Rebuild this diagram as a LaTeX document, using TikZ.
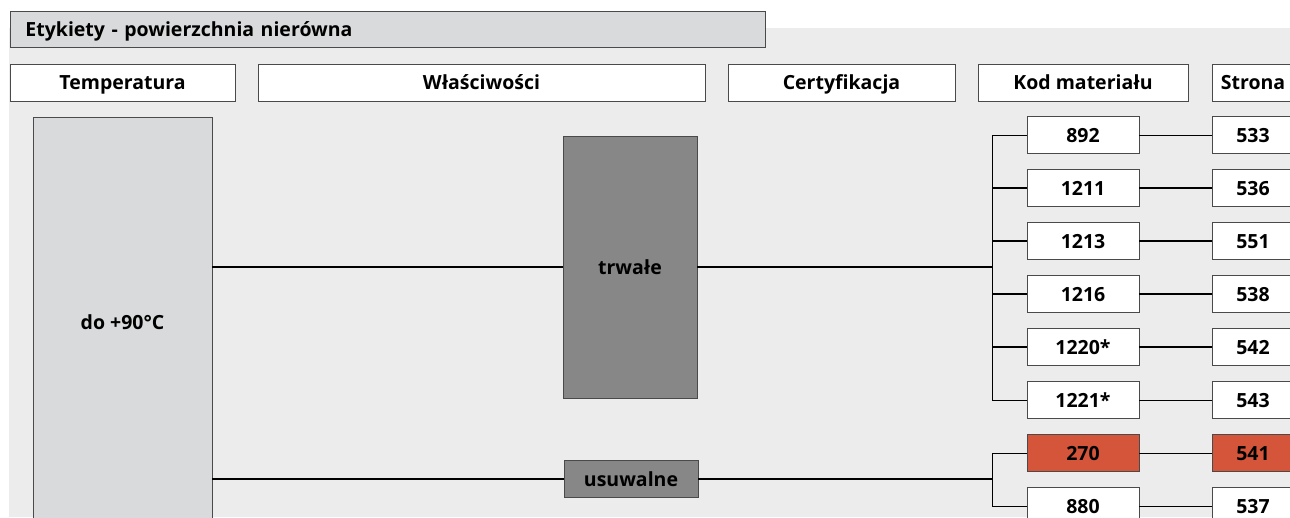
\documentclass[tikz,border=0pt]{standalone}
\usepackage{fontspec}
\setmainfont{Open Sans}
\definecolor{bgc}{HTML}{ECECEC}
\definecolor{lightfill}{HTML}{D9DADB}
\definecolor{darkfill}{HTML}{878787}
\definecolor{redfill}{HTML}{D5553B}
\definecolor{boxline}{HTML}{4A4A4A}
\newcommand{\lblfont}{\bfseries\fontsize{19.5}{22}\selectfont}
\begin{document}
\begin{tikzpicture}[x=1pt,y=-1pt,
  basebox/.style={draw=boxline, line width=0.9pt, inner sep=0pt, font=\lblfont, text=black, text height=14pt, text depth=0pt},
  whitebox/.style={basebox, fill=white},
  hdr/.style={whitebox, minimum height=37pt},
  codebox/.style={whitebox, minimum width=112pt, minimum height=36.5pt},
  pagebox/.style={whitebox, minimum width=82pt, minimum height=36.5pt},
  redbox/.style={fill=redfill},
  thickline/.style={draw=black, line width=1.5pt},
  thinline/.style={draw=black, line width=0.8pt},
  bracket/.style={draw=black, line width=1pt}]
\useasboundingbox (0,0) rectangle (1290,517);
\clip (0,0) rectangle (1290,517);
\fill[bgc] (9,28) rectangle (1290,517);

% title
\node[basebox, fill=lightfill, anchor=west, minimum height=36pt, text width=725pt, inner xsep=15pt, align=left] (title) at (10,29) {Etykiety - powierzchnia nierówna};

% headers
\node[hdr, minimum width=225pt] (hTemp) at (122.5,82.5) {Temperatura};
\node[hdr, minimum width=447pt] (hProp) at (481.5,82.5) {Właściwości};
\node[hdr, minimum width=227pt] (hCert) at (841.5,82.5) {Certyfikacja};
\node[hdr, minimum width=210pt] (hKod) at (1083,82.5) {Kod materiału};
\node[hdr, minimum width=82pt] (hStr) at (1253,82.5) {Strona};

% temperature
\node[basebox, fill=lightfill, minimum width=179pt, minimum height=410pt] (temp) at (122.5,322) {do +90°C};

% properties
\node[basebox, fill=darkfill, minimum width=134pt, minimum height=262pt] (trw) at (630,267) {trwałe};
\node[basebox, fill=darkfill, minimum width=134pt, minimum height=37pt] (usu) at (631,479) {usuwalne};

% codes
\node[codebox] (c892) at (1083,135) {892};
\node[codebox] (c1211) at (1083,188) {1211};
\node[codebox] (c1213) at (1083,241) {1213};
\node[codebox] (c1216) at (1083,294) {1216};
\node[codebox] (c1220) at (1083,347) {1220*};
\node[codebox] (c1221) at (1083,400) {1221*};
\node[codebox, redbox] (c270) at (1083,453) {270};
\node[codebox] (c880) at (1083,506) {880};

% pages
\node[pagebox] (p533) at (1253,135) {533};
\node[pagebox] (p536) at (1253,188) {536};
\node[pagebox] (p551) at (1253,241) {551};
\node[pagebox] (p538) at (1253,294) {538};
\node[pagebox] (p542) at (1253,347) {542};
\node[pagebox] (p543) at (1253,400) {543};
\node[pagebox, redbox] (p541) at (1253,453) {541};
\node[pagebox] (p537) at (1253,506) {537};

% bracket junction coordinates
\coordinate (jA) at (992,267);
\coordinate (jB) at (992,479);

% main connectors
\draw[thickline] (temp.east |- trw.west) -- (trw.west);
\draw[thickline] (temp.east |- usu.west) -- (usu.west);
\draw[thickline] (trw.east) -- (jA);
\draw[thickline] (usu.east) -- (jB);

% brackets
\draw[bracket] (jA |- c892.west) -- (jA |- c1221.west);
\draw[bracket] (jB |- c270.west) -- (jB |- c880.west);
\draw[thinline] (jA |- c892.west) -- (c892.west);
\draw[thickline] (jA |- c1211.west) -- (c1211.west);
\draw[thickline] (jA |- c1213.west) -- (c1213.west);
\draw[thickline] (jA |- c1216.west) -- (c1216.west);
\draw[thickline] (jA |- c1220.west) -- (c1220.west);
\draw[thinline] (jA |- c1221.west) -- (c1221.west);
\draw[thinline] (jB |- c270.west) -- (c270.west);
\draw[thinline] (jB |- c880.west) -- (c880.west);

% code to page
\draw[thinline] (c892.east) -- (p533.west);
\draw[thickline] (c1211.east) -- (p536.west);
\draw[thickline] (c1213.east) -- (p551.west);
\draw[thickline] (c1216.east) -- (p538.west);
\draw[thickline] (c1220.east) -- (p542.west);
\draw[thinline] (c1221.east) -- (p543.west);
\draw[thinline] (c270.east) -- (p541.west);
\draw[thinline] (c880.east) -- (p537.west);
\end{tikzpicture}
\end{document}
